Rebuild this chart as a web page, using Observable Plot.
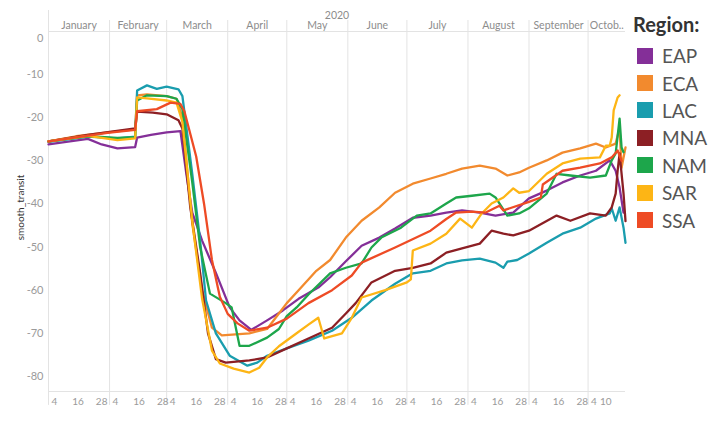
<!DOCTYPE html>
<html><head><meta charset="utf-8">
<script src="https://cdn.jsdelivr.net/npm/d3@7"></script>
<script src="https://cdn.jsdelivr.net/npm/@observablehq/plot@0.6"></script>
<style>
body{margin:0;background:#fff;font-family:Lato,"Open Sans",sans-serif;}
#wrap{position:relative;width:708px;height:433px;}
#legend{position:absolute;left:633px;top:12px;}
#legend .title{font-size:20px;font-weight:700;color:#333;line-height:24px;margin-bottom:6px;}
#legend .item{display:flex;align-items:center;height:27.4px;}
#legend .sw{width:16px;height:16px;margin-left:4px;margin-right:9px;}
#legend .lb{font-size:19px;color:#555;}
</style></head><body><div id="wrap"></div>
<script>
const regions = ["EAP","ECA","LAC","MNA","NAM","SAR","SSA"];
const colors = ["#842f98","#f28a2e","#1a9dae","#8c1f24","#1da64b","#fdb515","#ee4b25"];

const EAP = [["2020-01-01",-26.2],["2020-01-10",-25.6],["2020-01-21",-24.9],["2020-01-28",-26.2],["2020-02-05",-27.1],["2020-02-14",-26.8],["2020-02-15",-24.6],["2020-02-22",-24],["2020-03-01",-23.4],["2020-03-08",-23.1],["2020-03-11",-33],["2020-03-14",-42],["2020-03-19",-48.5],["2020-03-26",-56],["2020-04-02",-64],["2020-04-07",-67],["2020-04-13",-69.2],["2020-04-21",-67],["2020-04-29",-64.7],["2020-05-07",-62],["2020-05-17",-59.4],["2020-05-23",-57],["2020-05-31",-53.3],["2020-06-08",-49.7],["2020-06-17",-47.8],["2020-06-25",-45.7],["2020-07-04",-43.2],["2020-07-13",-42.7],["2020-07-21",-42],["2020-07-29",-41.5],["2020-08-07",-42],["2020-08-15",-42.7],["2020-08-24",-42],["2020-09-01",-38.7],["2020-09-10",-36.9],["2020-09-18",-35],["2020-09-27",-33.4],["2020-10-05",-32.3],["2020-10-12",-29.9],["2020-10-15",-32.3],["2020-10-17",-36.2],["2020-10-19",-42]];
const ECA = [["2020-01-01",-25.5],["2020-01-15",-24.3],["2020-01-31",-23.4],["2020-02-14",-22.7],["2020-02-15",-14.8],["2020-02-20",-14.6],["2020-03-01",-15],["2020-03-06",-15.6],["2020-03-09",-20],["2020-03-14",-44.5],["2020-03-19",-60],["2020-03-24",-68.7],["2020-03-29",-70.5],["2020-04-12",-70],["2020-04-21",-69],["2020-04-27",-65.4],["2020-05-01",-63],["2020-05-07",-60],["2020-05-16",-55.5],["2020-05-23",-53],["2020-05-31",-47.8],["2020-06-08",-43.9],["2020-06-17",-40.8],["2020-06-25",-37.4],["2020-07-04",-35.3],["2020-07-13",-34.1],["2020-07-21",-33],["2020-07-29",-31.8],["2020-08-07",-31.1],["2020-08-15",-31.8],["2020-08-21",-33.4],["2020-08-27",-32.7],["2020-09-01",-31.6],["2020-09-10",-29.9],["2020-09-18",-28.1],["2020-09-27",-27.1],["2020-10-05",-26],["2020-10-10",-26.9],["2020-10-15",-26],["2020-10-17",-22.3],["2020-10-18",-31.6],["2020-10-20",-26.9]];
const LAC = [["2020-01-01",-25.6],["2020-01-21",-24.4],["2020-02-05",-24.8],["2020-02-14",-24.4],["2020-02-15",-13.7],["2020-02-20",-12.5],["2020-02-25",-13.3],["2020-03-01",-12.8],["2020-03-07",-13.4],["2020-03-09",-15],["2020-03-14",-33],["2020-03-18",-48.5],["2020-03-21",-62.4],["2020-03-26",-70],["2020-04-02",-75.2],["2020-04-11",-77.5],["2020-04-16",-76.8],["2020-04-21",-75.2],["2020-05-01",-73.5],["2020-05-12",-71.7],["2020-05-24",-69.4],["2020-06-03",-66.4],["2020-06-13",-62.4],["2020-06-25",-58.5],["2020-07-04",-56.1],["2020-07-13",-55.5],["2020-07-21",-53.8],["2020-07-29",-53.1],["2020-08-07",-52.7],["2020-08-15",-53.6],["2020-08-19",-54.8],["2020-08-21",-53.4],["2020-08-26",-53],["2020-09-01",-51.5],["2020-09-10",-49],["2020-09-18",-46.9],["2020-09-27",-45.5],["2020-10-05",-43.4],["2020-10-12",-42.2],["2020-10-13",-41],["2020-10-15",-43.9],["2020-10-17",-40.8],["2020-10-19",-45.5],["2020-10-20",-49]];
const MNA = [["2020-01-01",-25.5],["2020-01-21",-24],["2020-02-14",-22.5],["2020-02-15",-18.6],["2020-02-23",-18.8],["2020-03-01",-19.2],["2020-03-07",-20.6],["2020-03-09",-22.5],["2020-03-13",-40.8],["2020-03-18",-56],["2020-03-22",-70],["2020-03-26",-76],["2020-03-31",-76.8],["2020-04-12",-76.3],["2020-04-21",-75.6],["2020-05-01",-73.5],["2020-05-12",-71.2],["2020-05-24",-68.7],["2020-05-31",-65.4],["2020-06-05",-63],["2020-06-13",-58.2],["2020-06-25",-55.5],["2020-07-04",-54.8],["2020-07-13",-53.8],["2020-07-21",-51.3],["2020-07-29",-50.3],["2020-08-07",-49.2],["2020-08-13",-46.2],["2020-08-19",-46.9],["2020-08-24",-47.3],["2020-09-01",-46.2],["2020-09-15",-42.7],["2020-09-22",-43.9],["2020-10-02",-42.2],["2020-10-10",-42.7],["2020-10-13",-40.8],["2020-10-15",-37.6],["2020-10-16",-32.3],["2020-10-17",-28.3],["2020-10-19",-37.6],["2020-10-20",-44]];
const NAM = [["2020-01-01",-25.5],["2020-01-21",-24.3],["2020-02-05",-24.7],["2020-02-14",-24.5],["2020-02-15",-16],["2020-02-20",-14.8],["2020-03-01",-15],["2020-03-06",-15.6],["2020-03-09",-18],["2020-03-14",-35],["2020-03-18",-50],["2020-03-23",-60.8],["2020-03-31",-63],["2020-04-03",-64],["2020-04-07",-72.9],["2020-04-12",-72.9],["2020-04-21",-71],["2020-04-27",-69],["2020-05-01",-66],["2020-05-06",-64],["2020-05-12",-61],["2020-05-23",-56.1],["2020-05-31",-54.8],["2020-06-08",-53.8],["2020-06-13",-50.1],["2020-06-18",-47.8],["2020-06-28",-45.5],["2020-07-06",-42.7],["2020-07-13",-42.2],["2020-07-21",-39.9],["2020-07-26",-38.5],["2020-08-03",-38.1],["2020-08-12",-37.6],["2020-08-15",-38.5],["2020-08-21",-42.7],["2020-08-27",-42.2],["2020-09-01",-41],["2020-09-10",-37.6],["2020-09-15",-33],["2020-09-22",-33.4],["2020-10-02",-33.9],["2020-10-10",-33.4],["2020-10-13",-29.9],["2020-10-15",-28.3],["2020-10-17",-20.2],["2020-10-18",-26.9],["2020-10-19",-28]];
const SAR = [["2020-01-01",-25.5],["2020-01-21",-24.2],["2020-02-05",-25.2],["2020-02-14",-24.8],["2020-02-15",-15.3],["2020-02-20",-15.5],["2020-03-01",-16],["2020-03-06",-16.5],["2020-03-09",-21],["2020-03-14",-44],["2020-03-19",-62],["2020-03-24",-74],["2020-03-28",-77],["2020-04-04",-78.2],["2020-04-12",-79.1],["2020-04-17",-78],["2020-04-21",-75.6],["2020-04-27",-73],["2020-05-06",-70],["2020-05-12",-68],["2020-05-17",-66.4],["2020-05-20",-71.2],["2020-05-29",-70],["2020-06-03",-66.4],["2020-06-08",-61.7],["2020-06-20",-60],["2020-07-01",-58.2],["2020-07-03",-57.5],["2020-07-04",-50.8],["2020-07-13",-49.2],["2020-07-21",-46.9],["2020-07-28",-43.4],["2020-08-03",-45.5],["2020-08-08",-42.2],["2020-08-13",-39.9],["2020-08-19",-38.5],["2020-08-24",-36.4],["2020-08-27",-37.4],["2020-09-01",-37],["2020-09-10",-33],["2020-09-18",-30.6],["2020-09-27",-29.5],["2020-10-07",-29.2],["2020-10-10",-26.5],["2020-10-12",-26.5],["2020-10-13",-24.6],["2020-10-14",-18.3],["2020-10-16",-15.3],["2020-10-17",-14.8]];
const SSA = [["2020-01-01",-25.5],["2020-01-31",-23.5],["2020-02-14",-22.8],["2020-02-15",-18.5],["2020-02-25",-18],["2020-03-03",-16.5],["2020-03-08",-16.8],["2020-03-10",-18.5],["2020-03-16",-29],["2020-03-20",-40],["2020-03-24",-53],["2020-03-28",-61.5],["2020-04-01",-65.5],["2020-04-06",-67.7],["2020-04-12",-69.4],["2020-04-21",-68.7],["2020-05-01",-66.6],["2020-05-12",-63],["2020-05-24",-60],["2020-06-03",-56.6],["2020-06-08",-53.6],["2020-06-25",-50.1],["2020-07-13",-46.2],["2020-07-21",-43.5],["2020-07-26",-42],["2020-08-03",-41.8],["2020-08-10",-42],["2020-08-17",-40.4],["2020-08-19",-41.5],["2020-09-01",-39.5],["2020-09-07",-38.5],["2020-09-08",-35.5],["2020-09-18",-32.3],["2020-09-27",-31.6],["2020-10-07",-30.6],["2020-10-13",-29.2],["2020-10-16",-27.6],["2020-10-18",-30]];

const monthNames = ["January","February","March","April","May","June","July","August","September","Octob.."];
const yTicks = [-10,-20,-30,-40,-50,-60,-70,-80];
const dayTicks = [4,16,28];
const yearLabel = "2020";
const yTitle = "smooth_transit";

const series = [EAP,ECA,LAC,MNA,NAM,SAR,SSA];
const data = series.flatMap((s,i)=>s.map(([d,v])=>({region:regions[i],date:new Date(d),value:v})));
const xStart = new Date("2020-01-01"), xEnd = new Date("2020-10-20");
const monthStarts = monthNames.map((m,i)=>new Date(Date.UTC(2020,i,1)));
const monthEnds = monthNames.map((m,i)=>i<9?new Date(Date.UTC(2020,i+1,1)):xEnd);
const monthMids = monthStarts.map((s,i)=>new Date((+s + +monthEnds[i])/2));
const tickDates = monthStarts.flatMap((s,i)=>(i<9?dayTicks:[4,10]).map(d=>new Date(Date.UTC(2020,i,d))));
const yMin=-83.5, yMax=0, pxPerUnit = 345/80;
const yAt = px => (31-px)/pxPerUnit; // convert header/footer pixel row to y value

const plot = Plot.plot({
  width:708, height:433,
  marginLeft:48, marginRight:83, marginTop:31, marginBottom:42,
  style:{fontFamily:"Lato, 'Open Sans', sans-serif", fontSize:"11px", background:"#fff"},
  x:{type:"utc", domain:[xStart,xEnd], axis:null},
  y:{domain:[yMin,yMax], axis:null},
  color:{domain:regions, range:colors},
  marks:[
    Plot.ruleX(monthStarts.slice(1), {x:d=>d, y1:yAt(405), y2:yAt(20), stroke:"#e3e3e3", strokeWidth:1}),
    Plot.ruleX([xStart], {x:d=>d, y1:yAt(405), y2:yAt(10), stroke:"#e3e3e3", strokeWidth:1}),
    Plot.ruleY([yMax, yMin], {x1:xStart, x2:xEnd, stroke:"#e3e3e3", strokeWidth:1}),
    Plot.text(monthNames, {x:(d,i)=>monthMids[i], y:yAt(25.5), text:d=>d, fill:"#8c8c8c", fontSize:10.5}),
    Plot.text([yearLabel], {x:new Date((+xStart + +xEnd)/2), y:yAt(15), text:d=>d, fill:"#8c8c8c", fontSize:10.5}),
    Plot.text(yTicks, {y:d=>d, frameAnchor:"left", dx:-5, textAnchor:"end", text:d=>String(d), fill:"#9a9a9a", fontSize:11}),
    Plot.text([0], {y:d=>d, frameAnchor:"left", dx:-5, dy:7, textAnchor:"end", text:d=>String(d), fill:"#9a9a9a", fontSize:11}),
    Plot.text(tickDates, {x:d=>d, y:yAt(401), text:d=>String(d.getUTCDate()), fill:"#9a9a9a", fontSize:10}),
    Plot.text([yTitle], {frameAnchor:"left", dx:-28, dy:-4, rotate:-90, textAnchor:"middle", text:d=>d, fill:"#333", fontSize:10}),
    Plot.line(data, {x:"date", y:"value", z:"region", stroke:"region", strokeWidth:2.3, strokeLinejoin:"round"})
  ]
});
const wrap = document.getElementById("wrap");
wrap.appendChild(plot);
const lg = document.createElement("div");
lg.id = "legend";
lg.innerHTML = '<div class="title">Region:</div>' + regions.map((r,i)=>
  `<div class="item"><div class="sw" style="background:${colors[i]}"></div><div class="lb">${r}</div></div>`).join("");
wrap.appendChild(lg);
</script></body></html>
